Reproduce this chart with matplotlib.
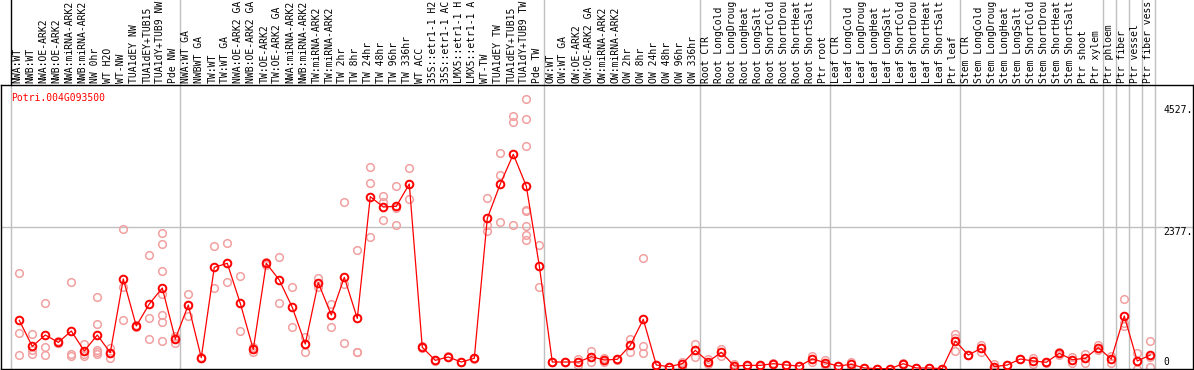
import matplotlib
matplotlib.use("Agg")
import matplotlib.pyplot as plt
import matplotlib.transforms as mtransforms

gene = "Potri.004G093500"

labels = [
    "NWA:WT", "NWB:WT", "NWA:OE-ARK2", "NWB:OE-ARK2", "NWA:miRNA-ARK2", "NWB:miRNA-ARK2",
    "NW 0hr", "WT H2O", "WT-NW", "TUA1dEY NW", "TUA1dEY+TUB15", "TUA1dY+TUB9 NW", "Pde NW",
    "NWA:WT GA", "NWBWT GA", "TW:WT", "TW:WT GA", "NWA:OE-ARK2 GA", "NWB:OE-ARK2 GA",
    "TW:OE-ARK2", "TW:OE-ARK2 GA", "NWA:miRNA-ARK2", "NWB:miRNA-ARK2", "TW:miRNA-ARK2",
    "TW:miRNA-ARK2", "TW 2hr", "TW 8hr", "TW 24hr", "TW 48hr", "TW 96hr", "TW 336hr",
    "WT ACC", "35S::etr1-1 H2O", "35S::etr1-1 ACC", "LMX5::etr1-1 H2O", "LMX5::etr1-1 ACC",
    "WT-TW", "TUA1dEY TW", "TUA1dEY+TUB15", "TUA1dY+TUB9 TW", "Pde TW",
    "OW:WT", "OW:WT GA", "OW:OE-ARK2", "OW:OE-ARK2 GA", "OW:miRNA-ARK2", "OW:miRNA-ARK2",
    "OW 2hr", "OW 8hr", "OW 24hr", "OW 48hr", "OW 96hr", "OW 336hr",
    "Root CTR", "Root LongCold", "Root LongDrought", "Root LongHeat", "Root LongSalt",
    "Root ShortCold", "Root ShortDrought", "Root ShortHeat", "Root ShortSalt", "Ptr root",
    "Leaf CTR", "Leaf LongCold", "Leaf LongDrought", "Leaf LongHeat", "Leaf LongSalt",
    "Leaf ShortCold", "Leaf ShortDrought", "Leaf ShortHeat", "Leaf ShortSalt", "Ptr leaf",
    "Stem CTR", "Stem LongCold", "Stem LongDrought", "Stem LongHeat", "Stem LongSalt",
    "Stem ShortCold", "Stem ShortDrought", "Stem ShortHeat", "Stem ShortSalt", "Ptr shoot",
    "Ptr xylem", "Ptr phloem", "Ptr fiber", "Ptr vessel", "Ptr fiber vessel",
]

means = [
    815, 379, 569, 446, 636, 301, 569, 273, 1507, 720, 1088, 1356, 502,
    1071, 190, 1702, 1769, 1099, 329, 1769, 1490, 1032, 418, 1445, 904,
    1535, 848, 2885, 2712, 2723, 3097, 363, 145, 201, 117, 179,
    2522, 3097, 3594, 3063, 1730,
    117, 117, 117, 206, 151, 162, 396, 831, 67, 39, 89, 312,
    123, 279, 50, 61, 61, 89, 67, 50, 167, 106,
    50, 78, 17, 6, 6, 89, 17, 17, 6, 469,
    234, 346, 39, 67, 167, 134, 112, 262, 156, 179, 357,
    167, 887, 134, 234,
]

replicates = [
    [1601, 597, 229], [586, 318, 246], [1099, 363, 229], [470, 440, 430],
    [1451, 257, 218], [424, 257, 212], [1205, 753, 318, 279, 246], [346, 262, 190],
    [2344, 1378, 815], [740, 720, 700], [1903, 848, 497],
    [2271, 2087, 1641, 1256, 904, 792, 463], [558, 520, 430],
    [1250, 1076, 887], [200, 190, 180], [2053, 1350], [2109, 1456], [1557, 631],
    [374, 290], [1797, 1741], [1875, 1099], [1373, 703], [541, 285], [1518, 1373],
    [1094, 697], [2796, 1417, 430], [1992, 290, 279], [3376, 3108, 2205],
    [2896, 2790, 2489], [3063, 2700, 2405], [3365, 2840], [380, 350], [150, 140],
    [210, 195], [120, 115], [185, 175],
    [2857, 2411, 2311], [3610, 3247, 2455], [4235, 4129, 2411],
    [4527, 4179, 3727, 2656, 2645, 2394, 2243, 2154], [2070, 1367],
    [125, 110], [120, 112], [165, 67], [301, 112], [190, 123], [170, 155],
    [502, 290], [1853, 379, 262], [70, 60], [40, 35], [123, 28], [413, 195],
    [167, 80], [335, 225], [89, 15], [65, 55], [70, 50], [95, 80], [70, 60],
    [55, 45], [223, 110], [151, 60],
    [55, 45], [123, 30], [20, 14], [8, 4], [8, 4], [95, 83], [20, 14], [20, 14],
    [8, 4], [580, 520, 307],
    [240, 228], [402, 290], [78, 5], [70, 64], [175, 160], [179, 90], [118, 106],
    [290, 234], [206, 106], [251, 107], [318, 396],
    [217, 95], [1166, 766, 725], [262, 0], [463, 39, 195],
]

# group boundaries (column index where a vertical separator is drawn)
separators = [0, 13, 41, 53, 63, 73, 84, 85, 86, 87, 88]

max_val = 4527
mid_val = 2377

red = "#ff0000"
pink = "#f2a0a0"
grey = "#c0c0c0"
mono = "DejaVu Sans Mono"

W, H = 1194, 370
fig = plt.figure(figsize=(W / 100, H / 100), dpi=100)
ax = fig.add_axes([1 / W, 1 / H, 1192 / W, 284 / H])
ax.set_xlim((1 - 10.7) / 13, (1193 - 10.7) / 13)
ax.set_ylim(0, 2 * mid_val)
ax.set_xticks([])
ax.set_yticks([])
for s in ax.spines.values():
    s.set_linewidth(1.0)
    s.set_color("black")

label_top = 1 + 85 / 284
ax.axhline(mid_val, color=grey, lw=1.0, zorder=1)
for k in separators:
    ax.axvline(k, ymin=0, ymax=1, color=grey, lw=1.0, zorder=1)
    ax.axvline(k, ymin=1, ymax=label_top, color="black" if k == 0 else grey,
               lw=1.0, clip_on=False, zorder=1)

xs = [i + 0.66 for i in range(len(means))]

for x, reps in zip(xs, replicates):
    ax.plot([x] * len(reps), reps, "o", mfc="none", mec=pink, ms=5.5, mew=1.1,
            clip_on=False, zorder=2)

ax.plot(xs, means, color=red, lw=0.9, zorder=3)
ax.plot(xs, means, "o", mfc="none", mec=red, ms=5.5, mew=1.4, clip_on=False, zorder=4)

# condition labels (truncated like the original)
lab_trans = mtransforms.blended_transform_factory(ax.transData, ax.transAxes)
for i, lab in enumerate(labels):
    ax.text(i + 0.52, 1 + 2 / 284, lab[:14], transform=lab_trans, rotation=90,
            ha="center", va="bottom", fontsize=7, family=mono, color="black")

ax.text(0, 0.973, gene, transform=lab_trans, ha="left", va="top",
        fontsize=7, family=mono, color=red)

# value labels on the right
x_lab = (1163 - 10.7) / 13
for val, txt, dy in [(max_val, "4527.", -11), (mid_val, "2377.", -5), (0, "0", 7)]:
    off = mtransforms.ScaledTranslation(0, dy / 100, fig.dpi_scale_trans)
    ax.text(x_lab, val, txt, transform=ax.transData + off, ha="left", va="center",
            fontsize=7, family=mono, color="black")

fig.savefig("out.png", dpi=100)
